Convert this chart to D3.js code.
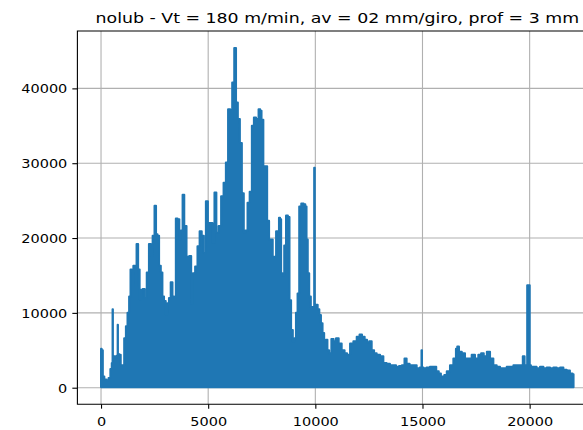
<!DOCTYPE html>
<html>
<head>
<meta charset="utf-8">
<script src="https://cdn.jsdelivr.net/npm/d3@7"></script>
<style>
  html, body { margin: 0; padding: 0; background: #ffffff; }
  svg { display: block; }
</style>
</head>
<body>
<svg id="chart" width="583" height="430"></svg>
<script>
// ---- data --------------------------------------------------------------
const chartTitle = "nolub - Vt = 180 m/min, av = 02 mm/giro, prof = 3 mm";

// Index of the last recorded sample.
const lastSample = 22050;

// Upper envelope of the dense signal: sample index and local peak value.
const sampleAt = [
  0, 60, 110, 200, 300, 400, 470, 530, 545, 565, 640, 720, 770, 780, 800, 880, 960, 1040,
  1120, 1200, 1270, 1350, 1400, 1460, 1555, 1620, 1695, 1770, 1835, 1900, 1990, 2085,
  2180, 2290, 2360, 2455, 2535, 2600, 2670, 2750, 2830, 2900, 2980, 3060, 3140, 3200,
  3300, 3370, 3450, 3530, 3610, 3700, 3760, 3850, 3920, 4060, 4170, 4245, 4330, 4450,
  4550, 4650, 4750, 4840, 4945, 5030, 5150, 5250, 5335, 5430, 5540, 5665, 5770, 5880,
  5975, 6080, 6160, 6270, 6330, 6440, 6520, 6625, 6700, 6780, 6890, 6980, 7095, 7170,
  7295, 7405, 7450, 7530, 7620, 7700, 7805, 7880, 7965, 8060, 8135, 8200, 8275, 8330,
  8380, 8430, 8510, 8585, 8680, 8760, 8830, 8910, 8990, 9060, 9130, 9210, 9285, 9400,
  9500, 9565, 9615, 9680, 9750, 9830, 9930, 9960, 9990, 10070, 10150, 10225, 10300,
  10375, 10450, 10530, 10600, 10685, 10810, 10900, 11030, 11150, 11310, 11420, 11540,
  11700, 11850, 12010, 12115, 12240, 12365, 12460, 12560, 12700, 12785, 12940, 13100,
  13250, 13400, 13565, 13700, 13830, 13980, 14100, 14220, 14300, 14500, 14650, 14810,
  14940, 14965, 14990, 15100, 15275, 15420, 15585, 15700, 15820, 15900, 15975, 16060,
  16205, 16360, 16520, 16600, 16645, 16760, 16910, 17060, 17220, 17370, 17530, 17680,
  17790, 17930, 18075, 18230, 18385, 18540, 18700, 18850, 19010, 19165, 19320, 19475,
  19630, 19730, 19800, 19870, 19900, 19990, 20020, 20100, 20250, 20400, 20565, 20720,
  20875, 21030, 21185, 21340, 21500, 21650, 21810, 21950, 22050
];
const peakValue = [
  5200, 5000, 1500, 1100, 1000, 1300, 2500, 3300, 10500, 4000, 4200, 4000, 4300, 8400, 4500, 4400, 3000, 3000,
  6600, 8200, 10000, 12200, 15800, 15600, 16300, 13600, 19200, 15800, 11800, 13100, 13200, 12000,
  15400, 19200, 17600, 20300, 24300, 20500, 20300, 16300, 15400, 12200, 11600, 9800, 11300, 12000,
  14100, 12200, 12000, 22600, 22500, 19800, 21000, 25800, 21600, 17500, 17600, 11300, 15300, 16200,
  18900, 20900, 20300, 18000, 24900, 22000, 22000, 19400, 26100, 20700, 21600, 25600, 27400, 30100,
  37200, 35900, 40800, 45400, 38100, 35900, 32700, 26000, 20700, 21000, 24700, 26200, 35000, 36100,
  35900, 37200, 37000, 35800, 29600, 29600, 22300, 19800, 19800, 17500, 17500, 20900, 20900, 22700,
  22500, 15300, 15000, 19000, 23000, 22800, 11700, 7700, 6200, 6600, 10000, 12600, 24200, 24600,
  24500, 24200, 19800, 15300, 12200, 10800, 10800, 29400, 11000, 11100, 10500, 9700, 8600,
  7300, 6200, 6400, 5000, 4600, 6500, 6200, 6600, 5900, 5000, 4600, 4400,
  5900, 6200, 6800, 7100, 6800, 6400, 6000, 6200, 5000, 4600, 4400, 4200,
  3300, 3200, 3000, 3000, 2800, 2900, 3000, 3900, 3200, 3000, 3000, 2600,
  2700, 5000, 2700, 2600, 2700, 2800, 2800, 2200, 1900, 1500, 1500, 1700,
  2200, 3000, 3900, 5200, 5500, 4800, 4600, 3900, 3900, 4400, 3900, 4400,
  4600, 4200, 4800, 3900, 3000, 2800, 2600, 2600, 2800, 2800, 3000, 3000,
  3000, 4200, 3000, 3000, 13700, 13700, 3000, 2800, 2800, 2600, 2800, 2600,
  2700, 2600, 2700, 2600, 2700, 2400, 2300, 1900, 1800
];
// Lowest level the signal reaches throughout the record.
const floorValue = 50;

const xTicks = [0, 5000, 10000, 15000, 20000];
const yTicks = [0, 10000, 20000, 30000, 40000];

// ---- layout ------------------------------------------------------------
const plot = { left: 77.4, right: 597.2, top: 31, bottom: 404.3 };
const textSX = 1.041, textSY = 0.896;   // figure aspect of the text glyphs
const lineColor = "#1f77b4";
const font = "'DejaVu Sans', 'Liberation Sans', sans-serif";

const svg = d3.select("#chart");

const signal = sampleAt.map((at, i) => ({ at, peak: peakValue[i] }));

// Axis limits padded by 5% of the data span, as the plotting default does.
const xPad = 0.05 * lastSample;
const x = d3.scaleLinear()
  .domain([0 - xPad, lastSample + xPad])
  .range([plot.left, plot.right]);

const yMax = d3.max(peakValue);
const yPad = 0.05 * (yMax - floorValue);
const y = d3.scaleLinear()
  .domain([floorValue - yPad, yMax + yPad])
  .range([plot.bottom, plot.top]);

svg.append("defs").append("clipPath").attr("id", "plot-clip")
  .append("rect")
  .attr("x", plot.left).attr("y", plot.top)
  .attr("width", plot.right - plot.left).attr("height", plot.bottom - plot.top);

// grid
const grid = svg.append("g").attr("stroke", "#b0b0b0").attr("stroke-width", 1.1);
grid.selectAll(".gx").data(xTicks).join("line")
  .attr("x1", d => x(d)).attr("x2", d => x(d))
  .attr("y1", plot.top).attr("y2", plot.bottom);
grid.selectAll(".gy").data(yTicks).join("line")
  .attr("x1", plot.left).attr("x2", plot.right)
  .attr("y1", d => y(d)).attr("y2", d => y(d));

// signal: the oscillation is so dense that it fills the band between its floor and its peaks
const band = d3.area()
  .x(d => x(d.at))
  .y0(y(floorValue))
  .y1(d => y(d.peak))
  .curve(d3.curveStep);

svg.append("g").attr("clip-path", "url(#plot-clip)")
  .append("path")
  .datum(signal)
  .attr("d", band)
  .attr("fill", lineColor)
  .attr("stroke", lineColor)
  .attr("stroke-width", 2)
  .attr("stroke-linejoin", "round");

// axes
const styleTicks = (g, kind) => {
  g.select(".domain").remove();
  g.selectAll(".tick line").attr("stroke", "#000").attr("stroke-width", 1.1);
  g.selectAll(".tick text").each(function () {
    const t = d3.select(this);
    if (kind === "left") {
      t.attr("transform", `translate(-10.1,4.5) scale(${textSX},${textSY})`);
    } else {
      t.attr("transform", `translate(0,21.2) scale(${textSX},${textSY})`);
    }
    t.attr("x", 0).attr("y", 0).attr("dy", null);
  });
  g.selectAll(".tick text")
    .attr("font-family", font)
    .attr("font-size", 13.89)
    .attr("fill", "#000");
};

svg.append("g")
  .attr("transform", `translate(${plot.left},0)`)
  .call(d3.axisLeft(y).tickValues(yTicks).tickSize(5.06).tickFormat(d3.format("d")))
  .call(g => styleTicks(g, "left"));

svg.append("g")
  .attr("transform", `translate(0,${plot.bottom})`)
  .call(d3.axisBottom(x).tickValues(xTicks).tickSize(4.36).tickFormat(d3.format("d")))
  .call(g => styleTicks(g, "bottom"));

// spines
const spines = svg.append("g").attr("stroke", "#000").attr("stroke-width", 1.1)
  .attr("stroke-linecap", "square").attr("fill", "none");
spines.append("path")
  .attr("d", `M${plot.right},${plot.top}H${plot.left}V${plot.bottom}H${plot.right}`);

// title
svg.append("text")
  .attr("transform", `translate(${(plot.left + plot.right) / 2},23.2) scale(${textSX},${textSY})`)
  .attr("text-anchor", "middle")
  .attr("font-family", font)
  .attr("font-size", 16.67)
  .attr("fill", "#000")
  .text(chartTitle);
</script>
</body>
</html>
